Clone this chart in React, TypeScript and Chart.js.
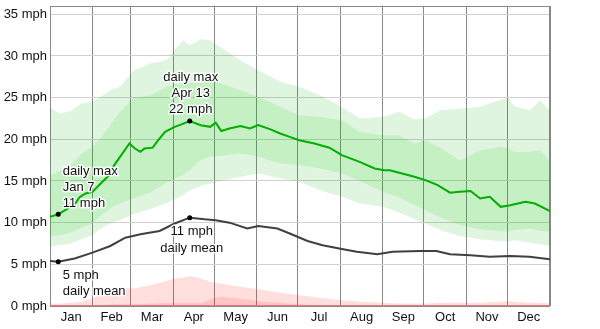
import React, { useEffect, useRef } from "react";
import { Chart, registerables } from "chart.js";
Chart.register(...registerables);

const monthNames = ["Jan","Feb","Mar","Apr","May","Jun","Jul","Aug","Sep","Oct","Nov","Dec"];
const monthStarts = [0,31,59,90,120,151,181,212,243,273,304,334,365];
const yTicks = [0,5,10,15,20,25,30,35];

const maxDays = [0,6,12,18,22,26,31,37,42,46,52,58,62,66,69,75,78,84,91,96,102,110,117,121,125,131,139,146,152,161,168,175,182,193,204,213,226,237,244,248,257,266,274,283,292,299,307,314,321,329,336,347,354,365];
const maxVals = [10.7,11.0,11.6,12.2,13.1,13.5,13.7,14.7,15.5,16.7,18.1,19.5,18.9,18.5,18.9,19.0,19.7,20.9,21.5,21.8,22.2,21.7,21.5,22.0,21.0,21.3,21.6,21.3,21.7,21.2,20.7,20.3,19.9,19.5,19.0,18.1,17.3,16.5,16.3,16.3,15.9,15.5,15.1,14.5,13.6,13.7,13.8,12.9,13.1,11.9,12.1,12.5,12.3,11.4];

const meanDays = [0,6,18,31,44,55,66,80,91,102,113,121,131,144,152,166,175,188,199,214,224,239,250,270,282,292,307,321,336,350,365];
const meanVals = [5.4,5.3,5.7,6.4,7.2,8.2,8.6,9.0,9.9,10.6,10.4,10.3,10.0,9.3,9.6,9.3,8.7,7.8,7.3,6.8,6.5,6.2,6.5,6.6,6.6,6.2,6.1,5.9,6.0,5.9,5.6];

const bandDays = [0,7,15,23,31,37,44,51,61,73,85,91,97,102,110,117,124,139,152,168,182,197,213,226,243,255,266,274,285,299,314,328,334,339,350,358,365];
const p90 = [23.8,23.1,23.4,24.3,24.5,25.1,25.9,26.3,28.3,29.1,29.5,30.7,31.9,31.3,32.0,31.9,31.1,29.5,28.3,26.9,26.3,25.3,23.9,22.5,22.7,23.3,22.4,22.5,23.5,23.7,23.9,24.7,25.0,24.0,23.5,24.7,23.5];
const p75 = [15.7,16.2,16.9,18.3,19.1,20.2,21.7,23.3,25.0,25.3,26.3,26.6,26.8,26.8,26.9,27.0,26.8,25.9,25.1,23.9,22.9,22.7,22.3,20.9,20.5,20.5,19.5,19.9,19.0,17.5,18.7,19.1,19.0,18.5,18.5,18.7,17.3];
const p25 = [8.3,8.5,8.8,9.4,9.9,10.8,11.7,12.3,12.9,13.6,14.8,15.3,15.7,16.3,17.5,17.9,18.0,18.3,17.9,17.1,16.9,16.5,15.9,15.0,13.7,13.0,12.1,11.5,10.6,9.7,9.2,9.0,8.9,9.1,9.3,9.0,8.9];
const p10 = [7.1,7.3,7.5,8.0,8.5,9.3,9.9,10.3,11.0,11.6,12.3,12.8,13.3,13.9,14.4,14.7,15.0,15.5,15.9,15.3,14.9,13.9,13.1,12.3,11.9,11.2,10.4,9.9,9.1,8.4,8.0,7.8,7.7,7.9,7.6,7.4,7.2];
const redOuter = [0.3,0.3,0.4,0.5,0.9,1.5,2.1,2.2,2.1,2.5,3.0,3.3,3.4,3.6,3.3,2.9,2.7,2.3,2.0,1.6,1.3,1.0,0.7,0.5,0.4,0.3,0.3,0.3,0.4,0.4,0.4,0.5,0.6,0.5,0.4,0.4,0.3];
const redInner = [0.1,0.1,0.1,0.1,0.1,0.1,0.2,0.2,0.2,0.3,0.4,0.4,0.4,0.4,0.4,0.8,1.1,0.9,0.6,0.4,0.2,0.1,0.1,0.1,0.1,0.1,0.1,0.1,0.1,0.1,0.1,0.1,0.1,0.1,0.1,0.1,0.1];

const markerDays = [6, 102];

const FONT = "'Liberation Sans', Arial, sans-serif";

const pts = (xs: number[], ys: number[]) => xs.map((x, i) => ({ x, y: ys[i] }));

const annotations = [
  { series: "max", day: 6, lines: ["daily max", "Jan 7", "11 mph"], align: "left", dx: 4.5, dy: [-42.5, -26.5, -10.5] },
  { series: "max", day: 102, lines: ["daily max", "Apr 13", "22 mph"], align: "center", dx: 1, dy: [-43.5, -28, -12] },
  { series: "mean", day: 102, lines: ["11 mph", "daily mean"], align: "center", dx: 2, dy: [14, 30.5] },
  { series: "mean", day: 6, lines: ["5 mph", "daily mean"], align: "left", dx: 4.5, dy: [14, 30] },
];

export default function App() {
  const ref = useRef<HTMLCanvasElement | null>(null);
  useEffect(() => {
    document.body.style.margin = "0";
    const canvas = ref.current!;
    const lookup = (series: string, day: number) => {
      const xs = series === "max" ? maxDays : meanDays;
      const ys = series === "max" ? maxVals : meanVals;
      return ys[xs.indexOf(day)];
    };
    const framePlugin = {
      id: "frame",
      beforeDatasetsDraw(chart: any) {
        const { ctx, chartArea: a } = chart;
        ctx.save();
        ctx.strokeStyle = "#888888";
        ctx.lineWidth = 1;
        ctx.strokeRect(a.left + 0.5, a.top + 0.5, a.right - a.left - 1, a.bottom - a.top);
        ctx.restore();
      },
    };
    const labelPlugin = {
      id: "labels",
      afterDatasetsDraw(chart: any) {
        const { ctx } = chart;
        const xs = chart.scales.x, ys = chart.scales.y;
        ctx.save();
        ctx.font = `13px ${FONT}`;
        ctx.textBaseline = "middle";
        ctx.lineJoin = "round";
        for (const an of annotations) {
          const px = xs.getPixelForValue(an.day) + an.dx;
          const py = ys.getPixelForValue(lookup(an.series, an.day));
          ctx.textAlign = an.align as CanvasTextAlign;
          an.lines.forEach((t, i) => {
            ctx.strokeStyle = "rgba(255,255,255,0.9)";
            ctx.lineWidth = 3;
            ctx.strokeText(t, px, py + an.dy[i]);
            ctx.fillStyle = "#111";
            ctx.fillText(t, px, py + an.dy[i]);
          });
        }
        ctx.restore();
      },
    };
    const mids = monthStarts.slice(0, 12).map((s, i) => (s + monthStarts[i + 1]) / 2);
    const markerRadius = (c: any) => (c.raw && markerDays.includes(c.raw.x) ? 2.5 : 0);
    const lightGreen = "rgba(0,173,0,0.122)";
    const medGreen = "rgba(0,190,0,0.23)";
    const chart = new Chart(canvas, {
      type: "line",
      data: {
        datasets: [
          { data: pts(maxDays, maxVals), borderColor: "#00ad00", borderWidth: 2, pointRadius: markerRadius, pointBackgroundColor: "#000", pointBorderWidth: 0, fill: false },
          { data: pts(meanDays, meanVals), borderColor: "#404040", borderWidth: 2, pointRadius: markerRadius, pointBackgroundColor: "#000", pointBorderWidth: 0, fill: false },
          { data: pts(bandDays, bandDays.map(() => 0)), borderColor: "rgb(240,120,120)", borderWidth: 2, pointRadius: 0, fill: false },
          { data: pts(bandDays, p10), borderWidth: 0, pointRadius: 0, fill: false },
          { data: pts(bandDays, p25), borderWidth: 0, pointRadius: 0, fill: 3, backgroundColor: lightGreen },
          { data: pts(bandDays, p75), borderWidth: 0, pointRadius: 0, fill: 4, backgroundColor: medGreen },
          { data: pts(bandDays, p90), borderWidth: 0, pointRadius: 0, fill: 5, backgroundColor: lightGreen },
          { data: pts(bandDays, redInner), borderWidth: 0, pointRadius: 0, fill: "origin", backgroundColor: "rgba(255,0,0,0.23)" },
          { data: pts(bandDays, redOuter), borderWidth: 0, pointRadius: 0, fill: 7, backgroundColor: "rgba(255,0,0,0.13)" },
        ],
      },
      options: {
        animation: false,
        responsive: false,
        devicePixelRatio: 1,
        layout: { padding: { top: 6, right: 50, left: 0, bottom: 0 } },
        plugins: { legend: { display: false }, tooltip: { enabled: false } },
        elements: { line: { tension: 0 } },
        scales: {
          x: {
            type: "linear",
            min: 0,
            max: 365,
            afterBuildTicks: (s: any) => {
              s.ticks = [...monthStarts, ...mids].sort((a, b) => a - b).map((v) => ({ value: v }));
            },
            afterFit: (s: any) => { s.height = 23; s.paddingLeft = 0; s.paddingRight = 0; },
            grid: {
              color: (c: any) => (c.tick && monthStarts.includes(c.tick.value) ? "#888888" : "rgba(0,0,0,0)"),
              drawTicks: false,
              lineWidth: 1,
            },
            border: { display: false },
            ticks: {
              autoSkip: false,
              maxRotation: 0,
              padding: 4,
              color: "#111",
              font: { family: FONT, size: 13 },
              callback: (v: any) => {
                const i = mids.indexOf(Number(v));
                return i >= 0 ? monthNames[i] : "";
              },
            },
          },
          y: {
            type: "linear",
            min: 0,
            max: 36,
            afterBuildTicks: (s: any) => { s.ticks = yTicks.map((v) => ({ value: v })); },
            afterFit: (s: any) => { s.width = 50; s.paddingTop = 0; s.paddingBottom = 0; },
            grid: { color: "#d0d0d0", drawTicks: false, lineWidth: 1 },
            border: { display: false },
            ticks: {
              padding: 3,
              color: "#111",
              font: { family: FONT, size: 13 },
              callback: (v: any) => `${v} mph`,
            },
          },
        },
      },
      plugins: [framePlugin, labelPlugin],
    } as any);
    return () => chart.destroy();
  }, []);
  return (
    <div style={{ position: "absolute", left: 0, top: 0, width: 600, height: 329, background: "#fff" }}>
      <canvas ref={ref} width={600} height={329} style={{ width: 600, height: 329, display: "block" }} />
    </div>
  );
}
